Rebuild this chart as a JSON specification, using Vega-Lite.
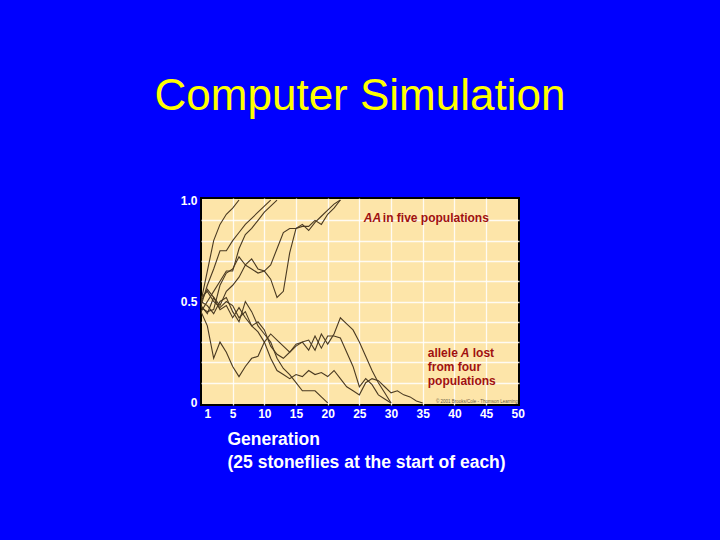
{
  "$schema": "https://vega.github.io/schema/vega-lite/v6.json",
  "autosize": "none",
  "width": 318,
  "height": 207,
  "padding": {"left": 201, "top": 198, "right": 201, "bottom": 135},
  "background": "#0000FF",
  "title": {
    "text": "Computer Simulation",
    "color": "#FFFF00",
    "font": "Liberation Sans",
    "fontSize": 44,
    "fontWeight": "normal",
    "anchor": "middle",
    "baseline": "alphabetic",
    "offset": 40
  },
  "config": {
    "view": {"fill": "#FDE5A9", "stroke": "#000000", "strokeWidth": 2},
    "axis": {
      "labelFont": "Liberation Sans",
      "labelFontWeight": "bold",
      "labelFontSize": 12,
      "labelColor": "#FFFFFF",
      "labelOverlap": false,
      "labelBound": false,
      "labelFlush": false,
      "tickCount": 60,
      "titleFont": "Liberation Sans",
      "titleColor": "#FFFFFF",
      "domain": false,
      "ticks": false,
      "gridColor": "#FFFFFF",
      "gridWidth": 1.3
    }
  },
  "datasets": {
    "pops": [
      {"pop": "p1", "gen": 0, "freq": 0.50}, {"pop": "p1", "gen": 1, "freq": 0.65}, {"pop": "p1", "gen": 2, "freq": 0.80}, {"pop": "p1", "gen": 3, "freq": 0.88}, {"pop": "p1", "gen": 4, "freq": 0.93}, {"pop": "p1", "gen": 5, "freq": 0.96}, {"pop": "p1", "gen": 6, "freq": 1.0},
      {"pop": "p2", "gen": 0, "freq": 0.48}, {"pop": "p2", "gen": 1, "freq": 0.58}, {"pop": "p2", "gen": 2, "freq": 0.66}, {"pop": "p2", "gen": 3, "freq": 0.75}, {"pop": "p2", "gen": 4, "freq": 0.75}, {"pop": "p2", "gen": 5, "freq": 0.80}, {"pop": "p2", "gen": 6, "freq": 0.84}, {"pop": "p2", "gen": 7, "freq": 0.88}, {"pop": "p2", "gen": 8, "freq": 0.91}, {"pop": "p2", "gen": 9, "freq": 0.94}, {"pop": "p2", "gen": 10, "freq": 0.97}, {"pop": "p2", "gen": 11, "freq": 1.0},
      {"pop": "p3", "gen": 0, "freq": 0.45}, {"pop": "p3", "gen": 1, "freq": 0.50}, {"pop": "p3", "gen": 2, "freq": 0.55}, {"pop": "p3", "gen": 3, "freq": 0.60}, {"pop": "p3", "gen": 4, "freq": 0.65}, {"pop": "p3", "gen": 5, "freq": 0.65}, {"pop": "p3", "gen": 6, "freq": 0.76}, {"pop": "p3", "gen": 7, "freq": 0.83}, {"pop": "p3", "gen": 8, "freq": 0.86}, {"pop": "p3", "gen": 9, "freq": 0.90}, {"pop": "p3", "gen": 10, "freq": 0.94}, {"pop": "p3", "gen": 11, "freq": 0.97}, {"pop": "p3", "gen": 12, "freq": 1.0},
      {"pop": "p4", "gen": 0, "freq": 0.47}, {"pop": "p4", "gen": 1, "freq": 0.45}, {"pop": "p4", "gen": 2, "freq": 0.46}, {"pop": "p4", "gen": 3, "freq": 0.58}, {"pop": "p4", "gen": 4, "freq": 0.64}, {"pop": "p4", "gen": 5, "freq": 0.66}, {"pop": "p4", "gen": 6, "freq": 0.72}, {"pop": "p4", "gen": 7, "freq": 0.68}, {"pop": "p4", "gen": 8, "freq": 0.71}, {"pop": "p4", "gen": 9, "freq": 0.66}, {"pop": "p4", "gen": 10, "freq": 0.65}, {"pop": "p4", "gen": 11, "freq": 0.61}, {"pop": "p4", "gen": 12, "freq": 0.52}, {"pop": "p4", "gen": 13, "freq": 0.55}, {"pop": "p4", "gen": 14, "freq": 0.74}, {"pop": "p4", "gen": 15, "freq": 0.86}, {"pop": "p4", "gen": 16, "freq": 0.87}, {"pop": "p4", "gen": 17, "freq": 0.87}, {"pop": "p4", "gen": 18, "freq": 0.90}, {"pop": "p4", "gen": 19, "freq": 0.88}, {"pop": "p4", "gen": 20, "freq": 0.93}, {"pop": "p4", "gen": 21, "freq": 0.96}, {"pop": "p4", "gen": 22, "freq": 1.0},
      {"pop": "p5", "gen": 0, "freq": 0.50}, {"pop": "p5", "gen": 1, "freq": 0.56}, {"pop": "p5", "gen": 2, "freq": 0.52}, {"pop": "p5", "gen": 3, "freq": 0.48}, {"pop": "p5", "gen": 4, "freq": 0.55}, {"pop": "p5", "gen": 5, "freq": 0.58}, {"pop": "p5", "gen": 6, "freq": 0.62}, {"pop": "p5", "gen": 7, "freq": 0.68}, {"pop": "p5", "gen": 8, "freq": 0.66}, {"pop": "p5", "gen": 9, "freq": 0.64}, {"pop": "p5", "gen": 10, "freq": 0.65}, {"pop": "p5", "gen": 11, "freq": 0.68}, {"pop": "p5", "gen": 12, "freq": 0.76}, {"pop": "p5", "gen": 13, "freq": 0.84}, {"pop": "p5", "gen": 14, "freq": 0.86}, {"pop": "p5", "gen": 15, "freq": 0.86}, {"pop": "p5", "gen": 16, "freq": 0.88}, {"pop": "p5", "gen": 17, "freq": 0.85}, {"pop": "p5", "gen": 18, "freq": 0.89}, {"pop": "p5", "gen": 19, "freq": 0.92}, {"pop": "p5", "gen": 20, "freq": 0.95}, {"pop": "p5", "gen": 21, "freq": 0.98}, {"pop": "p5", "gen": 22, "freq": 1.0},
      {"pop": "p6", "gen": 0, "freq": 0.45}, {"pop": "p6", "gen": 1, "freq": 0.38}, {"pop": "p6", "gen": 2, "freq": 0.22}, {"pop": "p6", "gen": 3, "freq": 0.30}, {"pop": "p6", "gen": 4, "freq": 0.25}, {"pop": "p6", "gen": 5, "freq": 0.18}, {"pop": "p6", "gen": 6, "freq": 0.13}, {"pop": "p6", "gen": 7, "freq": 0.18}, {"pop": "p6", "gen": 8, "freq": 0.22}, {"pop": "p6", "gen": 9, "freq": 0.23}, {"pop": "p6", "gen": 10, "freq": 0.30}, {"pop": "p6", "gen": 11, "freq": 0.34}, {"pop": "p6", "gen": 12, "freq": 0.31}, {"pop": "p6", "gen": 13, "freq": 0.28}, {"pop": "p6", "gen": 14, "freq": 0.25}, {"pop": "p6", "gen": 15, "freq": 0.29}, {"pop": "p6", "gen": 16, "freq": 0.30}, {"pop": "p6", "gen": 17, "freq": 0.26}, {"pop": "p6", "gen": 18, "freq": 0.33}, {"pop": "p6", "gen": 19, "freq": 0.27}, {"pop": "p6", "gen": 20, "freq": 0.33}, {"pop": "p6", "gen": 21, "freq": 0.33}, {"pop": "p6", "gen": 22, "freq": 0.32}, {"pop": "p6", "gen": 23, "freq": 0.25}, {"pop": "p6", "gen": 24, "freq": 0.18}, {"pop": "p6", "gen": 25, "freq": 0.08}, {"pop": "p6", "gen": 26, "freq": 0.12}, {"pop": "p6", "gen": 27, "freq": 0.09}, {"pop": "p6", "gen": 28, "freq": 0.04}, {"pop": "p6", "gen": 29, "freq": 0.02}, {"pop": "p6", "gen": 30, "freq": 0.0},
      {"pop": "p7", "gen": 0, "freq": 0.50}, {"pop": "p7", "gen": 1, "freq": 0.48}, {"pop": "p7", "gen": 2, "freq": 0.44}, {"pop": "p7", "gen": 3, "freq": 0.50}, {"pop": "p7", "gen": 4, "freq": 0.52}, {"pop": "p7", "gen": 5, "freq": 0.45}, {"pop": "p7", "gen": 6, "freq": 0.40}, {"pop": "p7", "gen": 7, "freq": 0.50}, {"pop": "p7", "gen": 8, "freq": 0.45}, {"pop": "p7", "gen": 9, "freq": 0.38}, {"pop": "p7", "gen": 10, "freq": 0.34}, {"pop": "p7", "gen": 11, "freq": 0.30}, {"pop": "p7", "gen": 12, "freq": 0.22}, {"pop": "p7", "gen": 13, "freq": 0.17}, {"pop": "p7", "gen": 14, "freq": 0.14}, {"pop": "p7", "gen": 15, "freq": 0.10}, {"pop": "p7", "gen": 16, "freq": 0.06}, {"pop": "p7", "gen": 17, "freq": 0.06}, {"pop": "p7", "gen": 18, "freq": 0.06}, {"pop": "p7", "gen": 19, "freq": 0.03}, {"pop": "p7", "gen": 20, "freq": 0.0},
      {"pop": "p8", "gen": 0, "freq": 0.52}, {"pop": "p8", "gen": 1, "freq": 0.55}, {"pop": "p8", "gen": 2, "freq": 0.50}, {"pop": "p8", "gen": 3, "freq": 0.47}, {"pop": "p8", "gen": 4, "freq": 0.50}, {"pop": "p8", "gen": 5, "freq": 0.48}, {"pop": "p8", "gen": 6, "freq": 0.42}, {"pop": "p8", "gen": 7, "freq": 0.45}, {"pop": "p8", "gen": 8, "freq": 0.38}, {"pop": "p8", "gen": 9, "freq": 0.35}, {"pop": "p8", "gen": 10, "freq": 0.30}, {"pop": "p8", "gen": 11, "freq": 0.22}, {"pop": "p8", "gen": 12, "freq": 0.16}, {"pop": "p8", "gen": 13, "freq": 0.14}, {"pop": "p8", "gen": 14, "freq": 0.12}, {"pop": "p8", "gen": 15, "freq": 0.14}, {"pop": "p8", "gen": 16, "freq": 0.13}, {"pop": "p8", "gen": 17, "freq": 0.16}, {"pop": "p8", "gen": 18, "freq": 0.14}, {"pop": "p8", "gen": 19, "freq": 0.15}, {"pop": "p8", "gen": 20, "freq": 0.13}, {"pop": "p8", "gen": 21, "freq": 0.16}, {"pop": "p8", "gen": 22, "freq": 0.12}, {"pop": "p8", "gen": 23, "freq": 0.08}, {"pop": "p8", "gen": 24, "freq": 0.06}, {"pop": "p8", "gen": 25, "freq": 0.04}, {"pop": "p8", "gen": 26, "freq": 0.10}, {"pop": "p8", "gen": 27, "freq": 0.12}, {"pop": "p8", "gen": 28, "freq": 0.11}, {"pop": "p8", "gen": 29, "freq": 0.08}, {"pop": "p8", "gen": 30, "freq": 0.05}, {"pop": "p8", "gen": 31, "freq": 0.06}, {"pop": "p8", "gen": 32, "freq": 0.04}, {"pop": "p8", "gen": 33, "freq": 0.03}, {"pop": "p8", "gen": 34, "freq": 0.01}, {"pop": "p8", "gen": 35, "freq": 0.0},
      {"pop": "p9", "gen": 0, "freq": 0.48}, {"pop": "p9", "gen": 1, "freq": 0.44}, {"pop": "p9", "gen": 2, "freq": 0.52}, {"pop": "p9", "gen": 3, "freq": 0.46}, {"pop": "p9", "gen": 4, "freq": 0.48}, {"pop": "p9", "gen": 5, "freq": 0.42}, {"pop": "p9", "gen": 6, "freq": 0.47}, {"pop": "p9", "gen": 7, "freq": 0.42}, {"pop": "p9", "gen": 8, "freq": 0.38}, {"pop": "p9", "gen": 9, "freq": 0.40}, {"pop": "p9", "gen": 10, "freq": 0.36}, {"pop": "p9", "gen": 11, "freq": 0.28}, {"pop": "p9", "gen": 12, "freq": 0.24}, {"pop": "p9", "gen": 13, "freq": 0.22}, {"pop": "p9", "gen": 14, "freq": 0.25}, {"pop": "p9", "gen": 15, "freq": 0.28}, {"pop": "p9", "gen": 16, "freq": 0.30}, {"pop": "p9", "gen": 17, "freq": 0.31}, {"pop": "p9", "gen": 18, "freq": 0.26}, {"pop": "p9", "gen": 19, "freq": 0.34}, {"pop": "p9", "gen": 20, "freq": 0.29}, {"pop": "p9", "gen": 21, "freq": 0.34}, {"pop": "p9", "gen": 22, "freq": 0.42}, {"pop": "p9", "gen": 23, "freq": 0.39}, {"pop": "p9", "gen": 24, "freq": 0.36}, {"pop": "p9", "gen": 25, "freq": 0.30}, {"pop": "p9", "gen": 26, "freq": 0.23}, {"pop": "p9", "gen": 27, "freq": 0.16}, {"pop": "p9", "gen": 28, "freq": 0.10}, {"pop": "p9", "gen": 29, "freq": 0.05}, {"pop": "p9", "gen": 30, "freq": 0.0}
    ],
    "notesItalic": [
      {"gen": 25.7, "freq": 0.911, "t": "AA"},
      {"gen": 41.0, "freq": 0.248, "t": "A"}
    ],
    "notesLeft": [
      {"gen": 28.7, "freq": 0.911, "t": "in five populations"},
      {"gen": 35.8, "freq": 0.248, "t": "allele"},
      {"gen": 42.9, "freq": 0.248, "t": "lost"},
      {"gen": 35.8, "freq": 0.177, "t": "from four"},
      {"gen": 35.8, "freq": 0.108, "t": "populations"}
    ],
    "credit": [
      {"gen": 50.0, "freq": 0.0, "t": "© 2001 Brooks/Cole - Thomson Learning"}
    ]
  },
  "layer": [
    {
      "data": {"name": "pops"},
      "mark": {"type": "line", "strokeWidth": 1.1, "color": "#4A3A22", "clip": true},
      "encoding": {
        "x": {
          "field": "gen", "type": "quantitative",
          "scale": {"domain": [0, 50.2], "nice": false, "zero": false},
          "axis": {
            "values": [1, 5, 10, 15, 20, 25, 30, 35, 40, 45, 50],
            "tickCount": 60,
            "labelPadding": 3,
            "gridOpacity": {"condition": {"test": "datum.value == 1 || datum.value == 50", "value": 0}, "value": 0.85},
            "title": ["Generation", "\u2005(25 stoneflies at the start of each)"],
            "titleFontSize": 17.5,
            "titleFontWeight": "bold",
            "titleAnchor": "start",
            "titleAlign": "left",
            "titleBaseline": "alphabetic",
            "titleX": 26,
            "titleY": 39,
            "titleLineHeight": 23
          }
        },
        "y": {
          "field": "freq", "type": "quantitative",
          "scale": {"domain": [-0.01, 1.01], "nice": false, "zero": false},
          "axis": {
            "values": [0, 0.1, 0.2, 0.3, 0.4, 0.5, 0.6, 0.7, 0.8, 0.9, 1.0],
            "tickCount": 60,
            "labelExpr": "datum.value == 0 ? '0' : (datum.value == 0.5 ? '0.5' : (datum.value == 1 ? '1.0' : ''))",
            "labelPadding": 4,
            "gridOpacity": {"condition": {"test": "datum.value == 0 || datum.value == 1", "value": 0}, "value": 0.85},
            "title": null
          }
        },
        "detail": {"field": "pop"}
      }
    },
    {
      "data": {"name": "notesItalic"},
      "mark": {"type": "text", "align": "left", "baseline": "middle", "font": "Liberation Sans", "fontSize": 12, "fontWeight": "bold", "fontStyle": "italic", "color": "#A01010"},
      "encoding": {
        "x": {"field": "gen", "type": "quantitative"},
        "y": {"field": "freq", "type": "quantitative"},
        "text": {"field": "t"}
      }
    },
    {
      "data": {"name": "notesLeft"},
      "mark": {"type": "text", "align": "left", "baseline": "middle", "font": "Liberation Sans", "fontSize": 12, "fontWeight": "bold", "color": "#A01010"},
      "encoding": {
        "x": {"field": "gen", "type": "quantitative"},
        "y": {"field": "freq", "type": "quantitative"},
        "text": {"field": "t"}
      }
    },
    {
      "data": {"name": "credit"},
      "mark": {"type": "text", "align": "right", "baseline": "bottom", "dy": 1, "font": "Liberation Sans", "fontSize": 4.5, "color": "#6A5A40"},
      "encoding": {
        "x": {"field": "gen", "type": "quantitative"},
        "y": {"field": "freq", "type": "quantitative"},
        "text": {"field": "t"}
      }
    }
  ]
}
